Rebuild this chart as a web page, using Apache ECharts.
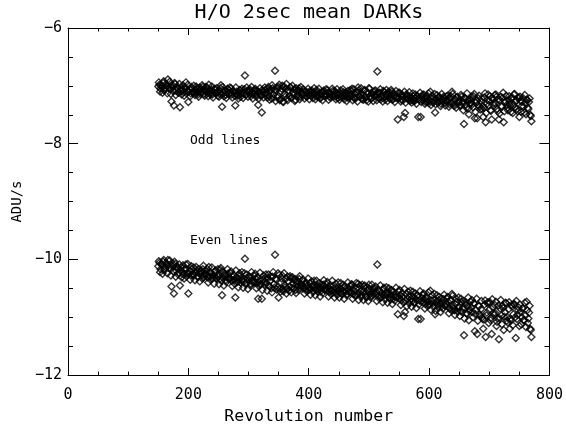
<!DOCTYPE html>
<html>
<head>
<meta charset="utf-8">
<script src="https://cdn.jsdelivr.net/npm/echarts@6/dist/echarts.min.js"></script>
<style>html,body{margin:0;padding:0;background:#fff}#c{width:566px;height:430px}</style>
</head>
<body>
<div id="c"></div>
<script>
const titleText = 'H/O 2sec mean DARKs';
const xTitle = 'Revolution number';
const yTitle = 'ADU/s';
const oddLabel = 'Odd lines';
const evenLabel = 'Even lines';

// even-numbered revolutions
const revs = [
150,152,154,156,158,160,162,164,166,168,
170,172,174,176,178,180,182,184,186,188,
190,192,194,196,198,200,202,204,206,208,
210,212,214,216,218,220,222,224,226,228,
230,232,234,236,238,240,242,244,246,248,
250,252,254,256,258,260,262,264,266,268,
270,272,274,276,278,280,282,284,286,288,
290,292,294,296,298,300,302,304,306,308,
310,312,314,316,318,320,322,324,326,328,
330,332,334,336,338,340,342,344,346,348,
350,352,354,356,358,360,362,364,366,368,
370,372,374,376,378,380,382,384,386,388,
390,392,394,396,398,400,402,404,406,408,
410,412,414,416,418,420,422,424,426,428,
430,432,434,436,438,440,442,444,446,448,
450,452,454,456,458,460,462,464,466,468,
470,472,474,476,478,480,482,484,486,488,
490,492,494,496,498,500,502,504,506,508,
510,512,514,516,518,520,522,524,526,528,
530,532,534,536,538,540,542,544,546,548,
550,552,554,556,558,560,562,564,566,568,
570,572,574,576,578,580,582,584,586,588,
590,592,594,596,598,600,602,604,606,608,
610,612,614,616,618,620,622,624,626,628,
630,632,634,636,638,640,642,644,646,648,
650,652,654,656,658,660,662,664,666,668,
670,672,674,676,678,680,682,684,686,688,
690,692,694,696,698,700,702,704,706,708,
710,712,714,716,718,720,722,724,726,728,
730,732,734,736,738,740,742,744,746,748,
750,752,754,756,758,760,762,764,766,768,
770];

const oddLines = [
-7.01,-6.98,-7.05,-7.02,-6.95,-7.08,-7.03,-7.00,-6.89,-7.04,
-7.06,-7.27,-7.02,-7.34,-6.97,-7.09,-7.05,-7.12,-7.37,-7.03,
-7.07,-7.11,-7.03,-6.94,-7.09,-7.28,-7.06,-7.13,-7.05,-7.10,
-7.12,-7.07,-7.04,-7.15,-7.09,-7.06,-7.11,-7.02,-7.14,-7.08,
-7.09,-7.13,-6.98,-7.12,-7.07,-7.15,-7.10,-7.05,-7.13,-7.11,
-7.10,-7.14,-6.99,-7.36,-7.12,-7.08,-7.16,-7.11,-7.06,-7.13,
-7.11,-7.15,-7.09,-7.13,-7.34,-7.10,-7.17,-7.12,-7.08,-7.14,
-7.10,-7.13,-6.82,-7.15,-7.09,-7.12,-7.06,-7.18,-7.11,-7.14,
-7.13,-7.08,-7.15,-7.33,-7.11,-7.17,-7.46,-7.10,-7.14,-7.07,
-7.12,-7.05,-7.18,-7.09,-7.22,-7.04,-7.15,-6.74,-7.08,-7.20,
-7.02,-7.25,-7.10,-7.00,-7.28,-7.14,-7.05,-7.22,-7.08,-7.18,
-7.03,-7.20,-7.12,-7.06,-7.24,-7.09,-7.15,-7.04,-7.19,-7.11,
-7.13,-7.16,-7.10,-7.18,-7.12,-7.15,-7.09,-7.17,-7.14,-7.11,
-7.14,-7.18,-7.11,-7.16,-7.13,-7.20,-7.15,-7.10,-7.17,-7.14,
-7.16,-7.12,-7.19,-7.14,-7.17,-7.09,-7.15,-7.18,-7.13,-7.16,
-7.15,-7.19,-7.13,-7.17,-7.11,-7.18,-7.16,-7.20,-7.14,-7.17,
-7.17,-7.05,-7.20,-7.14,-7.22,-7.10,-7.03,-7.18,-7.15,-7.21,
-7.16,-7.08,-7.19,-7.25,-7.13,-7.04,-7.18,-7.22,-7.15,-7.11,
-7.17,-7.14,-6.75,-7.20,-7.12,-7.23,-7.16,-7.09,-7.19,-7.15,
-7.18,-7.14,-7.21,-7.16,-7.10,-7.23,-7.17,-7.20,-7.19,-7.58,
-7.21,-7.17,-7.24,-7.19,-7.54,-7.47,-7.15,-7.22,-7.18,-7.25,
-7.20,-7.24,-7.18,-7.26,-7.21,-7.17,-7.54,-7.23,-7.54,-7.19,
-7.25,-7.21,-7.28,-7.19,-7.24,-7.30,-7.10,-7.22,-7.27,-7.20,
-7.46,-7.23,-7.28,-7.21,-7.26,-7.31,-7.24,-7.19,-7.29,-7.25,
-7.27,-7.22,-7.32,-7.18,-7.10,-7.29,-7.35,-7.24,-7.20,-7.30,
-7.26,-7.33,-7.19,-7.28,-7.66,-7.22,-7.38,-7.25,-7.49,-7.30,
-7.24,-7.32,-7.18,-7.56,-7.29,-7.56,-7.22,-7.36,-7.27,-7.40,
-7.54,-7.20,-7.63,-7.31,-7.15,-7.26,-7.42,-7.58,-7.23,-7.34,
-7.30,-7.19,-7.44,-7.58,-7.25,-7.35,-7.21,-7.63,-7.28,-7.17,
-7.38,-7.24,-7.31,-7.45,-7.20,-7.33,-7.14,-7.27,-7.40,-7.22,
-7.54,-7.26,-7.35,-7.21,-7.46,-7.30,-7.24,-7.38,-7.28,-7.50,
-7.61];

const evenLines = [
-10.12,-10.06,-10.17,-10.09,-10.04,-10.19,-10.13,-10.08,-10.01,-10.15,
-10.16,-10.47,-10.12,-10.59,-10.08,-10.20,-10.15,-10.23,-10.45,-10.14,
-10.21,-10.26,-10.18,-10.09,-10.24,-10.59,-10.20,-10.28,-10.17,-10.25,
-10.27,-10.22,-10.19,-10.30,-10.24,-10.21,-10.28,-10.17,-10.31,-10.25,
-10.26,-10.31,-10.13,-10.29,-10.24,-10.33,-10.27,-10.21,-10.32,-10.28,
-10.30,-10.34,-10.15,-10.62,-10.32,-10.27,-10.36,-10.30,-10.25,-10.33,
-10.33,-10.37,-10.30,-10.35,-10.66,-10.31,-10.39,-10.34,-10.28,-10.36,
-10.35,-10.38,-9.99,-10.40,-10.33,-10.37,-10.30,-10.42,-10.36,-10.39,
-10.39,-10.33,-10.41,-10.68,-10.36,-10.43,-10.68,-10.35,-10.40,-10.32,
-10.41,-10.32,-10.46,-10.37,-10.50,-10.30,-10.43,-9.92,-10.35,-10.48,
-10.66,-10.51,-10.40,-10.28,-10.55,-10.44,-10.33,-10.50,-10.38,-10.47,
-10.32,-10.49,-10.42,-10.36,-10.53,-10.40,-10.46,-10.34,-10.50,-10.43,
-10.46,-10.50,-10.43,-10.52,-10.45,-10.49,-10.41,-10.51,-10.47,-10.44,
-10.49,-10.53,-10.46,-10.51,-10.48,-10.55,-10.50,-10.44,-10.52,-10.49,
-10.53,-10.49,-10.56,-10.51,-10.54,-10.46,-10.52,-10.57,-10.50,-10.54,
-10.53,-10.58,-10.51,-10.55,-10.48,-10.57,-10.54,-10.60,-10.52,-10.56,
-10.57,-10.44,-10.60,-10.54,-10.62,-10.49,-10.42,-10.59,-10.55,-10.61,
-10.56,-10.47,-10.60,-10.66,-10.54,-10.44,-10.59,-10.63,-10.57,-10.52,
-10.59,-10.56,-10.09,-10.63,-10.55,-10.66,-10.60,-10.51,-10.62,-10.58,
-10.62,-10.58,-10.66,-10.61,-10.54,-10.68,-10.63,-10.65,-10.64,-10.95,
-10.67,-10.62,-10.70,-10.65,-10.98,-10.91,-10.60,-10.68,-10.64,-10.71,
-10.68,-10.72,-10.65,-10.74,-10.69,-10.63,-11.03,-10.71,-11.03,-10.67,
-10.74,-10.69,-10.77,-10.68,-10.73,-10.79,-10.54,-10.71,-10.76,-10.70,
-10.95,-10.73,-10.78,-10.71,-10.77,-10.82,-10.75,-10.69,-10.80,-10.76,
-10.80,-10.74,-10.85,-10.71,-10.60,-10.82,-10.88,-10.77,-10.73,-10.84,
-10.82,-10.89,-10.75,-10.84,-11.31,-10.78,-10.93,-10.81,-11.05,-10.87,
-10.83,-10.91,-10.76,-11.24,-10.88,-11.29,-10.80,-10.95,-10.86,-11.00,
-11.20,-10.78,-11.34,-10.92,-10.74,-10.87,-11.05,-11.29,-10.83,-10.96,
-10.93,-11.15,-11.02,-11.38,-10.85,-10.97,-10.80,-11.22,-10.91,-10.76,
-11.00,-10.86,-11.20,-11.06,-10.82,-10.95,-10.78,-11.36,-11.03,-10.88,
-11.15,-10.90,-11.00,-10.84,-11.05,-10.97,-10.73,-11.10,-10.92,-11.20,
-11.34];

// odd-numbered revolutions
const revsB = [
151,153,155,157,159,161,163,165,167,169,
171,173,175,177,179,181,183,185,187,189,
191,193,195,197,199,201,203,205,207,209,
211,213,215,217,219,221,223,225,227,229,
231,233,235,237,239,241,243,245,247,249,
251,253,255,257,259,261,263,265,267,269,
271,273,275,277,279,281,283,285,287,289,
291,293,295,297,299,301,303,305,307,309,
311,313,315,317,319,321,323,325,327,329,
331,333,335,337,339,341,343,345,347,349,
351,353,355,357,359,361,363,365,367,369,
371,373,375,377,379,381,383,385,387,389,
391,393,395,397,399,401,403,405,407,409,
411,413,415,417,419,421,423,425,427,429,
431,433,435,437,439,441,443,445,447,449,
451,453,455,457,459,461,463,465,467,469,
471,473,475,477,479,481,483,485,487,489,
491,493,495,497,499,501,503,505,507,509,
511,513,515,517,519,521,523,525,527,529,
531,533,535,537,539,541,543,545,547,549,
551,553,555,557,559,561,563,565,567,569,
571,573,575,577,579,581,583,585,587,589,
591,593,595,597,599,601,603,605,607,609,
611,613,615,617,619,621,623,625,627,629,
631,633,635,637,639,641,643,645,647,649,
651,653,655,657,659,661,663,665,667,669,
671,673,675,677,679,681,683,685,687,689,
691,693,695,697,699,701,703,705,707,709,
711,713,715,717,719,721,723,725,727,729,
731,733,735,737,739,741,743,745,747,749,
751,753,755,757,759,761,763,765,767,769];

const oddLinesB = [
-6.94,-7.10,-6.99,-7.12,-6.92,-7.06,-6.97,-7.13,-7.01,-6.93,
-7.14,-6.98,-7.09,-6.95,-7.16,-7.03,-7.11,-6.97,-7.08,-7.15,
-6.99,-7.17,-7.04,-7.13,-6.98,-7.10,-7.18,-7.02,-7.12,-7.00,
-7.16,-7.01,-7.11,-7.19,-7.03,-7.14,-6.99,-7.07,-7.17,-7.02,
-7.03,-7.18,-7.08,-7.15,-7.01,-7.20,-7.06,-7.13,-7.04,-7.17,
-7.19,-7.04,-7.14,-7.02,-7.18,-7.09,-7.21,-7.05,-7.15,-7.03,
-7.04,-7.20,-7.10,-7.17,-7.03,-7.15,-7.22,-7.07,-7.19,-7.05,
-7.21,-7.06,-7.16,-7.03,-7.19,-7.09,-7.14,-7.02,-7.22,-7.08,
-7.05,-7.19,-7.09,-7.22,-7.04,-7.16,-7.07,-7.20,-7.03,-7.15,
-7.20,-7.02,-7.24,-7.06,-6.99,-7.21,-7.08,-7.26,-7.03,-7.17,
-6.98,-7.23,-7.05,-7.27,-7.01,-7.19,-6.97,-7.25,-7.09,-7.03,
-7.21,-7.00,-7.16,-7.26,-7.04,-7.19,-7.07,-7.23,-7.02,-7.15,
-7.06,-7.22,-7.10,-7.19,-7.05,-7.23,-7.12,-7.08,-7.21,-7.04,
-7.23,-7.07,-7.19,-7.05,-7.22,-7.11,-7.25,-7.08,-7.18,-7.06,
-7.07,-7.24,-7.12,-7.20,-7.05,-7.18,-7.09,-7.23,-7.06,-7.21,
-7.24,-7.08,-7.19,-7.06,-7.23,-7.12,-7.26,-7.09,-7.21,-7.07,
-7.09,-7.25,-7.06,-7.21,-7.12,-7.27,-7.08,-7.19,-7.04,-7.23,
-7.24,-7.07,-7.20,-7.10,-7.27,-7.05,-7.22,-7.13,-7.26,-7.09,
-7.08,-7.25,-7.12,-7.22,-7.06,-7.19,-7.27,-7.10,-7.24,-7.07,
-7.26,-7.10,-7.22,-7.07,-7.24,-7.13,-7.28,-7.09,-7.21,-7.12,
-7.12,-7.27,-7.15,-7.25,-7.10,-7.29,-7.17,-7.23,-7.11,-7.26,
-7.29,-7.13,-7.26,-7.15,-7.31,-7.18,-7.24,-7.12,-7.28,-7.16,
-7.15,-7.31,-7.18,-7.28,-7.13,-7.26,-7.33,-7.17,-7.29,-7.14,
-7.32,-7.16,-7.29,-7.19,-7.35,-7.14,-7.27,-7.21,-7.34,-7.18,
-7.17,-7.36,-7.21,-7.30,-7.14,-7.33,-7.24,-7.38,-7.19,-7.28,
-7.35,-7.16,-7.30,-7.42,-7.20,-7.33,-7.13,-7.39,-7.24,-7.31,
-7.19,-7.37,-7.14,-7.45,-7.26,-7.33,-7.17,-7.41,-7.22,-7.35,
-7.38,-7.13,-7.47,-7.24,-7.34,-7.18,-7.43,-7.21,-7.30,-7.16,
-7.15,-7.40,-7.23,-7.48,-7.19,-7.36,-7.12,-7.44,-7.27,-7.33,
-7.42,-7.18,-7.35,-7.22,-7.47,-7.15,-7.38,-7.25,-7.44,-7.20,
-7.19,-7.45,-7.27,-7.36,-7.16,-7.49,-7.24,-7.40,-7.22,-7.52];

const evenLinesB = [
-10.03,-10.22,-10.08,-10.25,-10.01,-10.16,-10.06,-10.24,-10.11,-10.02,
-10.28,-10.07,-10.21,-10.04,-10.30,-10.13,-10.26,-10.09,-10.19,-10.31,
-10.10,-10.33,-10.16,-10.29,-10.08,-10.25,-10.35,-10.12,-10.27,-10.14,
-10.36,-10.13,-10.30,-10.17,-10.38,-10.21,-10.33,-10.11,-10.28,-10.19,
-10.16,-10.40,-10.22,-10.35,-10.14,-10.31,-10.42,-10.19,-10.33,-10.17,
-10.43,-10.18,-10.37,-10.21,-10.45,-10.25,-10.39,-10.17,-10.34,-10.23,
-10.21,-10.46,-10.27,-10.42,-10.19,-10.38,-10.48,-10.24,-10.40,-10.22,
-10.49,-10.24,-10.43,-10.26,-10.51,-10.30,-10.45,-10.22,-10.40,-10.28,
-10.25,-10.50,-10.31,-10.46,-10.23,-10.42,-10.53,-10.28,-10.44,-10.26,
-10.54,-10.26,-10.47,-10.30,-10.57,-10.22,-10.49,-10.33,-10.52,-10.24,
-10.27,-10.56,-10.33,-10.51,-10.24,-10.48,-10.59,-10.30,-10.54,-10.29,
-10.57,-10.31,-10.50,-10.34,-10.58,-10.37,-10.53,-10.29,-10.47,-10.36,
-10.35,-10.59,-10.40,-10.55,-10.33,-10.52,-10.61,-10.38,-10.56,-10.37,
-10.62,-10.37,-10.56,-10.41,-10.64,-10.44,-10.58,-10.36,-10.53,-10.43,
-10.39,-10.64,-10.45,-10.60,-10.37,-10.57,-10.66,-10.42,-10.61,-10.40,
-10.66,-10.41,-10.60,-10.44,-10.68,-10.47,-10.62,-10.40,-10.57,-10.46,
-10.43,-10.68,-10.48,-10.63,-10.41,-10.60,-10.70,-10.45,-10.65,-10.44,
-10.70,-10.45,-10.64,-10.48,-10.72,-10.51,-10.66,-10.44,-10.61,-10.50,
-10.47,-10.72,-10.52,-10.67,-10.45,-10.64,-10.74,-10.49,-10.69,-10.48,
-10.75,-10.50,-10.69,-10.53,-10.77,-10.56,-10.71,-10.49,-10.66,-10.55,
-10.53,-10.79,-10.58,-10.74,-10.51,-10.71,-10.81,-10.56,-10.76,-10.54,
-10.82,-10.56,-10.76,-10.59,-10.84,-10.62,-10.78,-10.55,-10.73,-10.61,
-10.59,-10.85,-10.64,-10.80,-10.57,-10.77,-10.87,-10.62,-10.82,-10.60,
-10.89,-10.62,-10.83,-10.65,-10.91,-10.68,-10.85,-10.61,-10.80,-10.67,
-10.65,-10.93,-10.70,-10.88,-10.63,-10.85,-10.96,-10.68,-10.90,-10.66,
-10.98,-10.68,-10.91,-10.72,-11.02,-10.75,-10.94,-10.66,-10.89,-10.73,
-10.70,-11.00,-10.76,-10.95,-10.68,-11.06,-10.81,-10.98,-10.72,-11.03,
-11.04,-10.71,-10.97,-10.76,-11.10,-10.74,-11.01,-10.69,-10.93,-10.79,
-10.73,-11.08,-10.80,-11.02,-10.70,-11.12,-10.84,-10.99,-10.75,-11.06,
-11.09,-10.74,-11.03,-10.79,-11.14,-10.77,-11.00,-10.72,-10.96,-10.83,
-10.78,-11.12,-10.85,-11.05,-10.75,-11.17,-10.88,-11.02,-10.80,-11.22];

const FONT = '"DejaVu Sans Mono", monospace';
const chart = echarts.init(document.getElementById('c'), null, {renderer: 'canvas'});

const baseX = {
  type: 'value', min: 0, max: 800, interval: 200,
  axisLine: {show: true, onZero: false, lineStyle: {color: '#000', width: 1}},
  axisTick: {show: true, inside: true, length: 7, lineStyle: {color: '#000'}},
  minorTick: {show: true, splitNumber: 4, length: 3.5, lineStyle: {color: '#000'}},
  splitLine: {show: false}, minorSplitLine: {show: false}
};
const baseY = {
  type: 'value', min: -12, max: -6, interval: 2,
  axisLine: {show: true, onZero: false, lineStyle: {color: '#000', width: 1}},
  axisTick: {show: true, inside: true, length: 10, lineStyle: {color: '#000'}},
  minorTick: {show: true, splitNumber: 4, length: 5, lineStyle: {color: '#000'}},
  splitLine: {show: false}, minorSplitLine: {show: false}
};

const scatterStyle = {
  type: 'scatter', symbol: 'diamond', symbolSize: 7,
  itemStyle: {color: 'rgba(0,0,0,0)', borderColor: '#000', borderWidth: 1.4},
  emphasis: {disabled: true}, silent: true
};

function pairs(xs, ys) { return xs.map((r, i) => [r, ys[i]]); }

chart.setOption({
  animation: false,
  backgroundColor: '#fff',
  grid: {left: 68, right: 16, top: 28, bottom: 52},
  xAxis: [
    Object.assign({}, baseX, {
      position: 'bottom',
      name: xTitle, nameLocation: 'middle', nameGap: 28,
      nameTextStyle: {fontFamily: FONT, fontSize: 16.5, color: '#000'},
      axisLabel: {show: true, margin: 13, fontFamily: FONT, fontSize: 15, color: '#000'}
    }),
    Object.assign({}, baseX, {position: 'top', axisLabel: {show: false}})
  ],
  yAxis: [
    Object.assign({}, baseY, {
      position: 'left',
      name: yTitle, nameLocation: 'middle', nameGap: 44,
      nameTextStyle: {fontFamily: FONT, fontSize: 14, color: '#000'},
      axisLabel: {show: true, margin: 6, fontFamily: FONT, fontSize: 15, color: '#000',
        formatter: v => (v < 0 ? '\u2212' : '') + Math.abs(v)}
    }),
    Object.assign({}, baseY, {position: 'right', axisLabel: {show: false}})
  ],
  series: [
    Object.assign({}, scatterStyle, {name: oddLabel, data: pairs(revs, oddLines).concat(pairs(revsB, oddLinesB))}),
    Object.assign({}, scatterStyle, {name: evenLabel, data: pairs(revs, evenLines).concat(pairs(revsB, evenLinesB))})
  ],
  graphic: [
    {type: 'text', x: 309, y: 13, style: {text: titleText, font: '20px ' + FONT, fill: '#000', align: 'center', verticalAlign: 'middle'}},
    {type: 'text', x: 190, y: 141, style: {text: oddLabel, font: '13px ' + FONT, fill: '#000', align: 'left', verticalAlign: 'middle'}},
    {type: 'text', x: 190, y: 241, style: {text: evenLabel, font: '13px ' + FONT, fill: '#000', align: 'left', verticalAlign: 'middle'}}
  ]
});
</script>
</body>
</html>
